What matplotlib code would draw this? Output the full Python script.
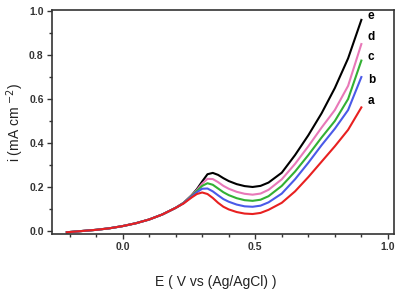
import matplotlib
matplotlib.use("Agg")
import matplotlib.pyplot as plt
from matplotlib.ticker import MultipleLocator, FormatStrFormatter

plt.rcParams['font.family'] = ['Liberation Sans', 'DejaVu Sans']

# potential (V vs Ag/AgCl), shared by all curves
E = [-0.21, -0.15, -0.1, -0.05, 0.0, 0.05, 0.1, 0.15, 0.2,
     0.23, 0.26, 0.28, 0.30, 0.32, 0.34, 0.36, 0.38, 0.40, 0.43, 0.46, 0.49,
     0.52, 0.55, 0.6, 0.65, 0.7, 0.75, 0.8, 0.85, 0.9]

# common foot of the waves
base = [-0.006, 0.0, 0.005, 0.012, 0.022, 0.035, 0.052, 0.075, 0.105]

i_a = base + [0.125, 0.152, 0.168, 0.175, 0.168, 0.150, 0.128, 0.110, 0.098, 0.086, 0.079, 0.077,
              0.082, 0.096, 0.128, 0.18, 0.245, 0.315, 0.385, 0.46, 0.562]
i_b = base + [0.126, 0.156, 0.176, 0.192, 0.193, 0.18, 0.162, 0.145, 0.133, 0.12, 0.112, 0.11,
              0.115, 0.13, 0.17, 0.235, 0.31, 0.39, 0.465, 0.55, 0.70]
i_c = base + [0.127, 0.158, 0.182, 0.205, 0.217, 0.21, 0.193, 0.176, 0.163, 0.149, 0.140, 0.137,
              0.142, 0.158, 0.205, 0.27, 0.345, 0.425, 0.5, 0.6, 0.775]
i_d = base + [0.128, 0.16, 0.186, 0.215, 0.237, 0.236, 0.222, 0.205, 0.192, 0.178, 0.169, 0.165,
              0.17, 0.187, 0.235, 0.305, 0.385, 0.47, 0.55, 0.66, 0.85]
i_e = base + [0.128, 0.162, 0.19, 0.225, 0.258, 0.264, 0.255, 0.24, 0.227, 0.213, 0.204, 0.200,
              0.205, 0.22, 0.265, 0.345, 0.435, 0.535, 0.65, 0.785, 0.96]

labels = ['e', 'd', 'c', 'b', 'a']
curves = [i_e, i_d, i_c, i_b, i_a]
colors = ['black', '#e878b8', '#33b033', '#4a5ae8', '#e82020']
label_y = [0.977, 0.883, 0.79, 0.686, 0.592]

fig = plt.figure(figsize=(4.0, 2.94), dpi=100)
ax = fig.add_axes([0.13, 0.204, 0.855, 0.762])

for c, col in zip(curves, colors):
    ax.plot(E, c, color=col, lw=1.5)

for lab, y in zip(labels, label_y):
    ax.text(0.925, y, lab, fontsize=8.5, fontweight='bold', va='center', ha='left')

ax.set_xlim(-0.266, 1.023)
ax.set_ylim(-0.014, 1.005)
ax.xaxis.set_major_locator(MultipleLocator(0.5))
ax.xaxis.set_minor_locator(MultipleLocator(0.1))
ax.yaxis.set_major_locator(MultipleLocator(0.2))
ax.yaxis.set_minor_locator(MultipleLocator(0.1))
ax.tick_params(which='both', direction='out', labelsize=7.5, colors='#333333', width=1)
ax.tick_params(which='major', length=3.5, pad=2.5)
ax.tick_params(which='minor', length=2)
ax.xaxis.set_major_formatter(FormatStrFormatter('%.1f'))
ax.yaxis.set_major_formatter(FormatStrFormatter('%.1f'))
for lbl in ax.get_xticklabels() + ax.get_yticklabels():
    lbl.set_fontweight('bold')
for s in ax.spines.values():
    s.set_linewidth(1.2)
    s.set_color('#333333')

ax.set_xlabel('E ( V vs (Ag/AgCl) )', fontsize=10, color='#222222')
ax.xaxis.set_label_coords(0.48, -0.185)
ax.set_ylabel(r'i (mA cm $^{-2}$)', fontsize=10, color='#222222')
ax.yaxis.set_label_coords(-0.075, 0.5)

fig.savefig('out.png', dpi=100)
